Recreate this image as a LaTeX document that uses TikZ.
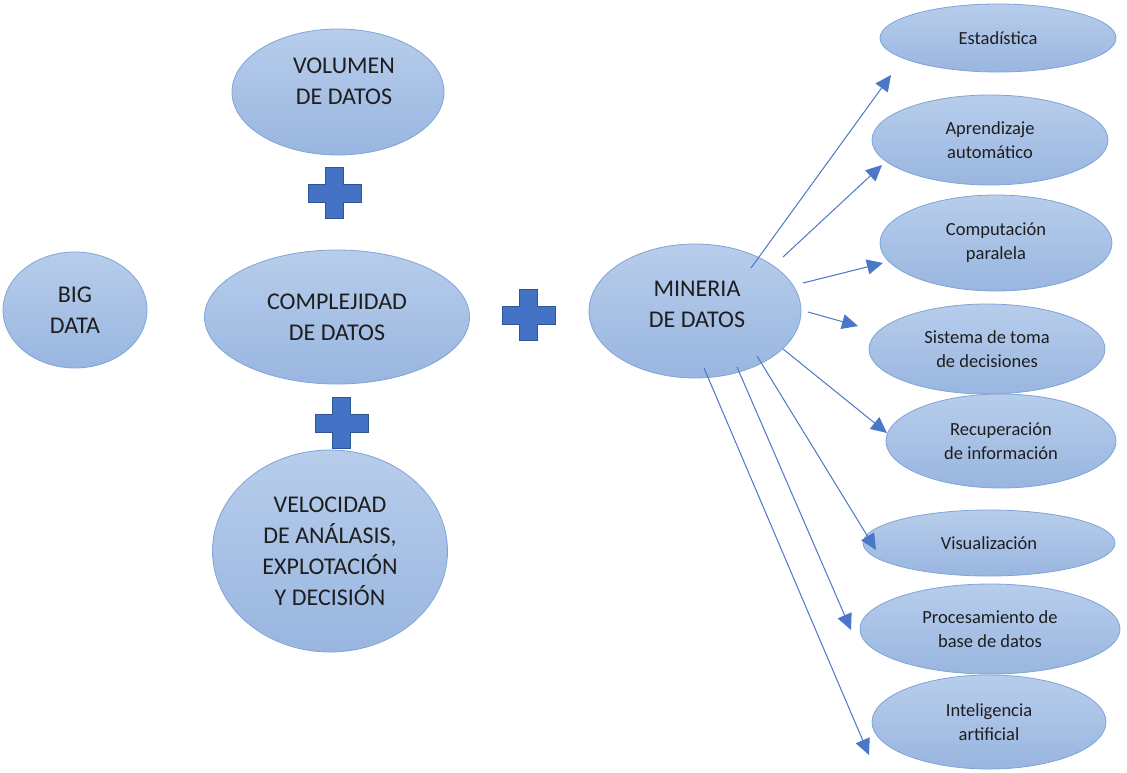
\documentclass[tikz,border=0pt]{standalone}
\usepackage{fontspec}
\setmainfont{Carlito}
\usetikzlibrary{shapes.geometric,arrows.meta}
\definecolor{elltop}{HTML}{B7CDEB}
\definecolor{ellbot}{HTML}{99B6E0}
\definecolor{elldraw}{HTML}{7FA4D6}
\definecolor{plusfill}{HTML}{4472C4}
\definecolor{plusdraw}{HTML}{2F5597}
\definecolor{arrowcol}{HTML}{4A77C8}
\definecolor{txt}{HTML}{1E1E1E}
\tikzset{
  bubble/.style={ellipse, inner sep=0pt, draw=elldraw, line width=0.8pt,
    top color=elltop, bottom color=ellbot, text=txt, align=center},
  bigtxt/.style={font=\fontsize{24}{31}\selectfont, text=txt, align=center},
  smalltxt/.style={font=\fontsize{18.5}{24}\selectfont},
  conn/.style={draw=arrowcol, line width=1pt, -{Triangle[length=16pt,width=15pt]}},
  plussign/.pic={
    \fill[plusfill, draw=plusdraw, line width=1pt]
      (-9,-26) -- (9,-26) -- (9,-9) -- (27,-9) -- (27,9) -- (9,9) -- (9,25)
      -- (-9,25) -- (-9,9) -- (-26,9) -- (-26,-9) -- (-9,-9) -- cycle;
  }
}
\begin{document}
\begin{tikzpicture}[x=1pt,y=-1pt]
\useasboundingbox (0,0) rectangle (1127,772);

% left column
\node[bubble,minimum width=212pt,minimum height=126pt] (vol) at (338,92) {};
\node[bigtxt] (voltxt) at (344,81) {VOLUMEN\\DE DATOS};
\node[bubble,bigtxt,minimum width=144pt,minimum height=116pt] (big) at (75,310) {BIG\\DATA};
\node[bubble,bigtxt,minimum width=265pt,minimum height=134pt] (comp) at (337,317) {COMPLEJIDAD\\DE DATOS};
\node[bubble,bigtxt,minimum width=235pt,minimum height=202pt] (vel) at (330,551) {VELOCIDAD\\DE ANÁLASIS,\\EXPLOTACIÓN\\Y DECISIÓN};
\node[bubble,minimum width=212pt,minimum height=134pt] (min) at (695,311) {};
\node[bigtxt] (mintxt) at (697,304) {MINERIA\\DE DATOS};

\pic at (334,193) {plussign};
\pic at (341,423) {plussign};
\pic at (528,315) {plussign};

% right column
\node[bubble,smalltxt,minimum width=236pt,minimum height=68pt] (est) at (998,38) {Estadística};
\node[bubble,smalltxt,minimum width=236pt,minimum height=90pt] (apr) at (990,140) {Aprendizaje\\automático};
\node[bubble,smalltxt,minimum width=232pt,minimum height=96pt] (cpu) at (996,243) {Computación\\paralela};
\node[bubble,smalltxt,minimum width=236pt,minimum height=90pt] (sis) at (987,349) {Sistema de toma\\de decisiones};
\node[bubble,smalltxt,minimum width=230pt,minimum height=94pt] (rec) at (1001,441) {Recuperación\\de información};
\node[bubble,smalltxt,minimum width=252pt,minimum height=66pt] (vis) at (989,543) {Visualización};
\node[bubble,smalltxt,minimum width=260pt,minimum height=90pt] (pro) at (990,629) {Procesamiento de\\base de datos};
\node[bubble,smalltxt,minimum width=234pt,minimum height=94pt] (ia) at (989,722) {Inteligencia\\artificial};

% arrow start/end points
\coordinate (s1) at (751,268); \coordinate (e1) at (891,75);
\coordinate (s2) at (783,257); \coordinate (e2) at (882,165);
\coordinate (s3) at (803,283); \coordinate (e3) at (883,263);
\coordinate (s4) at (808,312); \coordinate (e4) at (858,326);
\coordinate (s5) at (783,349); \coordinate (e5) at (887,433);
\coordinate (s6) at (757,356); \coordinate (e6) at (876,550);
\coordinate (s7) at (737,367); \coordinate (e7) at (851,630);
\coordinate (s8) at (704,368); \coordinate (e8) at (869,755);

\draw[conn] (s1) -- (e1);
\draw[conn] (s2) -- (e2);
\draw[conn] (s3) -- (e3);
\draw[conn] (s4) -- (e4);
\draw[conn] (s5) -- (e5);
\draw[conn] (s6) -- (e6);
\draw[conn] (s7) -- (e7);
\draw[conn] (s8) -- (e8);
\end{tikzpicture}
\end{document}
